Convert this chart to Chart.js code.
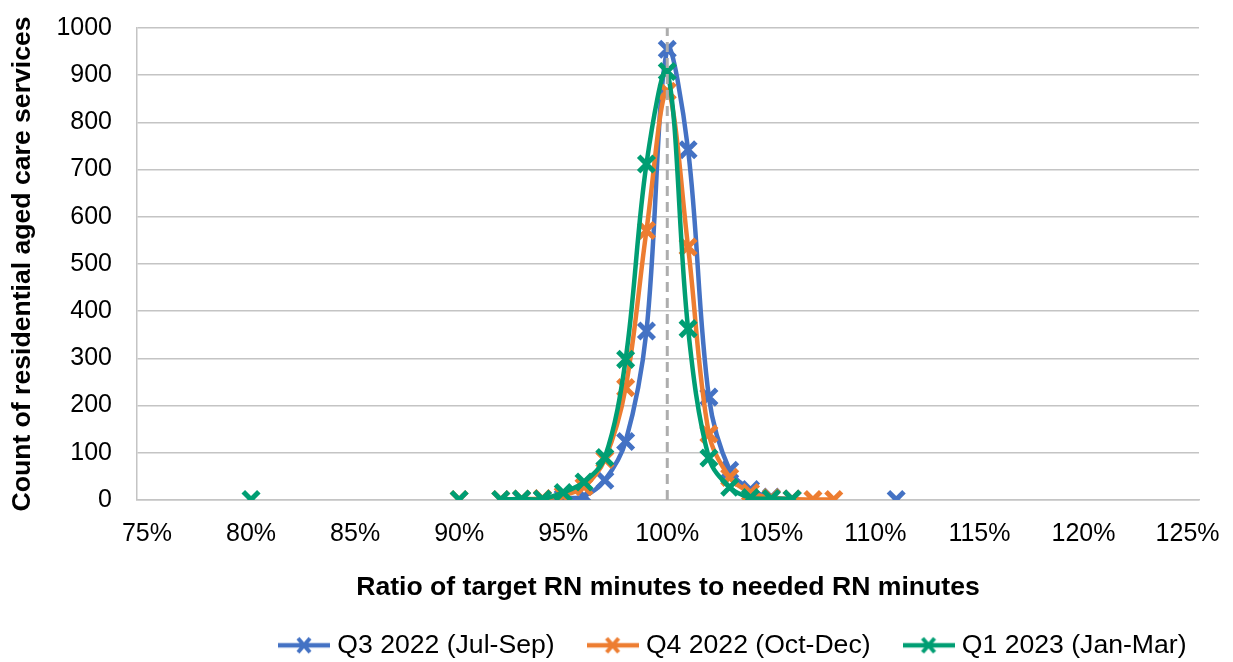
<!DOCTYPE html>
<html>
<head>
<meta charset="utf-8">
<script src="https://cdn.jsdelivr.net/npm/chart.js@4.4.1/dist/chart.umd.min.js"></script>
<style>
  html, body { margin: 0; padding: 0; background: #fff; }
  #wrap { width: 1233px; height: 662px; position: relative; }
</style>
</head>
<body>
<div id="wrap"><canvas id="rnChart"></canvas></div>
<script>
// ratio of target RN minutes to needed RN minutes (%), null = gap in the series
const q3Pct = [93, 94, 95, 96, 97, 98, 99, 100, 101, 102, 103, 104, 105, 106, 107, 111];
const q3Count = [1, 2, 4, 8, 42, 124, 358, 955, 742, 218, 63, 22, 6, 2, null, 1];

const q4Pct = [90, 91, 92, 93, 94, 95, 96, 97, 98, 99, 100, 101, 102, 103, 104, 105, 106, 107, 108];
const q4Count = [1, null, 1, 2, 3, 10, 28, 86, 238, 571, 866, 536, 140, 48, 16, 5, 2, 1, 1];

const q1Pct = [80, 81, 90, 91, 92, 93, 94, 95, 96, 97, 98, 99, 100, 101, 102, 103, 104, 105, 106];
const q1Count = [1, null, 1, null, 1, 2, 2, 16, 38, 90, 298, 712, 908, 363, 89, 27, 5, 3, 2];

const seriesNames = ["Q3 2022 (Jul-Sep)", "Q4 2022 (Oct-Dec)", "Q1 2023 (Jan-Mar)"];
const seriesColors = ["#4472C4", "#ED7D31", "#009E73"];

const xTickPct = [75, 80, 85, 90, 95, 100, 105, 110, 115, 120, 125];
const targetPct = 100;
const yMax = 1000;

const FONT = "'Liberation Sans', Arial, sans-serif";
const GRID = "#C4C4C4";

function toPoints(xs, ys) {
    return xs.map((x, i) => ({ x: x, y: ys[i] }));
}

// legend sample: short line with the cross marker on it
function legendIcon(color) {
    const c = document.createElement('canvas');
    c.width = 52;
    c.height = 20;
    const g = c.getContext('2d');
    g.strokeStyle = color;
    g.lineWidth = 4.5;
    g.beginPath();
    g.moveTo(0, 10);
    g.lineTo(52, 10);
    g.stroke();
    g.lineWidth = 4;
    g.beginPath();
    g.moveTo(20, 3); g.lineTo(32, 17);
    g.moveTo(32, 3); g.lineTo(20, 17);
    g.stroke();
    return c;
}
const icons = seriesColors.map(legendIcon);

function lineSet(i, xs, ys, order) {
    return {
        label: seriesNames[i],
        data: toPoints(xs, ys),
        borderColor: seriesColors[i],
        backgroundColor: seriesColors[i],
        borderWidth: 4.5,
        pointStyle: 'crossRot',
        pointRadius: 11,
        pointBorderWidth: 5,
        pointBorderColor: seriesColors[i],
        showLine: true,
        tension: 0.35,
        spanGaps: false,
        order: order
    };
}

const moveLegend = {
    id: 'moveLegend',
    afterLayout(chart) {
        const lg = chart.legend;
        lg.left += 246;
        lg.right += 246;
        lg.top -= 18;
        lg.bottom = chart.height;
    }
};

const rnChart = new Chart('rnChart', {
    type: 'scatter',
    data: {
        datasets: [
            lineSet(0, q3Pct, q3Count, 3),
            lineSet(1, q4Pct, q4Count, 2),
            lineSet(2, q1Pct, q1Count, 1),
            {
                label: 'target',
                data: [{ x: targetPct, y: 0 }, { x: targetPct, y: yMax }],
                borderColor: '#ADADAD',
                borderWidth: 3,
                borderDash: [10, 6],
                pointRadius: 0,
                showLine: true,
                order: 0
            }
        ]
    },
    options: {
        animation: false,
        responsive: true,
        maintainAspectRatio: false,
        layout: { padding: { top: 28, right: 34, left: 0, bottom: 0 } },
        plugins: {
            tooltip: { enabled: false },
            legend: {
                position: 'bottom',
                align: 'start',
                maxHeight: 50,
                labels: {
                    color: '#000',
                    font: { family: FONT, size: 26.6 },
                    usePointStyle: true,
                    pointStyleWidth: 40,
                    padding: 38,
                    filter: item => item.datasetIndex < 3,
                    sort: (a, b) => a.datasetIndex - b.datasetIndex,
                    generateLabels: chart => {
                        const items = Chart.defaults.plugins.legend.labels.generateLabels(chart);
                        items.forEach(it => {
                            if (it.datasetIndex < 3) it.pointStyle = icons[it.datasetIndex];
                        });
                        return items;
                    }
                }
            }
        },
        scales: {
            x: {
                type: 'linear',
                min: 74.52,
                max: 125.55,
                afterBuildTicks: s => { s.ticks = xTickPct.map(v => ({ value: v })); },
                afterFit: s => { s.height = 112; },
                grid: { display: false },
                border: { display: true, color: GRID, width: 1.5 },
                ticks: {
                    color: '#000',
                    font: { family: FONT, size: 25 },
                    padding: 11,
                    maxRotation: 0,
                    callback: v => v + '%'
                },
                title: {
                    display: true,
                    text: 'Ratio of target RN minutes to needed RN minutes',
                    color: '#000',
                    font: { family: FONT, size: 26.6, weight: 'bold' },
                    padding: { top: 0, bottom: 8 }
                }
            },
            y: {
                min: 0,
                max: yMax,
                afterFit: s => { s.width = 137; },
                grid: { color: GRID, lineWidth: 1.5, drawTicks: true, tickLength: 25, tickColor: 'rgba(0,0,0,0)' },
                border: { display: true, color: GRID, width: 1.5 },
                ticks: {
                    stepSize: 100,
                    color: '#000',
                    font: { family: FONT, size: 25 },
                    padding: 0,
                    callback: v => String(v)
                },
                title: {
                    display: true,
                    text: 'Count of residential aged care services',
                    color: '#000',
                    font: { family: FONT, size: 26.6, weight: 'bold' },
                    padding: { top: 7, bottom: 0 }
                }
            }
        }
    },
    plugins: [moveLegend]
});
</script>
</body>
</html>
